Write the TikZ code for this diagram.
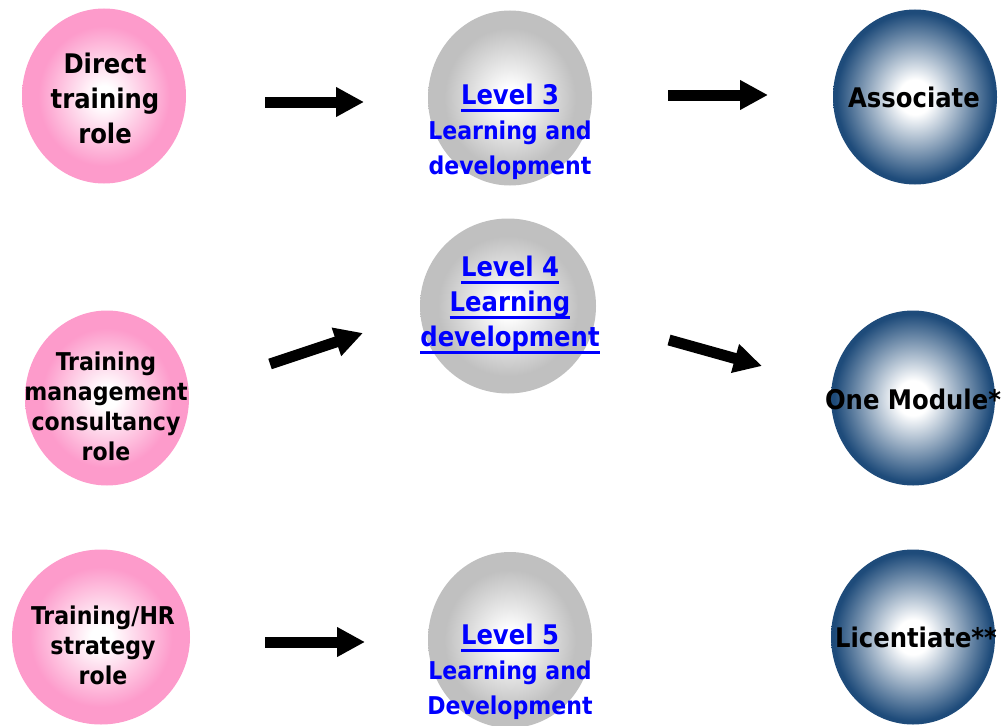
\documentclass[tikz,border=0pt]{standalone}
\usepackage{fontspec}
\setmainfont{DejaVu Sans Condensed}
\usetikzlibrary{shapes.geometric,arrows.meta}
\definecolor{pinkc}{RGB}{253,155,203}
\definecolor{grayc}{RGB}{192,192,192}
\definecolor{bluec}{RGB}{30,75,122}
\definecolor{linkblue}{RGB}{0,0,255}
\pgfdeclareradialshading{pinkball}{\pgfpoint{0bp}{0bp}}{color(0bp)=(white);color(3bp)=(white);color(20bp)=(pinkc);color(25bp)=(pinkc);color(50bp)=(pinkc)}
\pgfdeclareradialshading{grayball}{\pgfpoint{0bp}{0bp}}{color(0bp)=(white);color(3bp)=(white);color(20bp)=(grayc);color(25bp)=(grayc);color(50bp)=(grayc)}
\pgfdeclareradialshading{blueball}{\pgfpoint{0bp}{0bp}}{color(0bp)=(white);color(5bp)=(white);color(24bp)=(bluec);color(25bp)=(bluec);color(50bp)=(bluec)}
\newsavebox\ulbox
\newcommand\myul[1]{\leavevmode\sbox\ulbox{#1}\rlap{\rule[-7pt]{\wd\ulbox}{2.6pt}}\usebox\ulbox}
\newcommand\bigf{\fontsize{27}{35}\selectfont\bfseries}
\newcommand\midf{\fontsize{24.5}{35}\selectfont\bfseries}
\newcommand\pinkf{\fontsize{24.5}{30}\selectfont\bfseries}
\begin{document}
\begin{tikzpicture}[x=1pt,y=-1pt,
  ball/.style={ellipse,minimum width=164pt,minimum height=175pt,inner sep=0pt,outer sep=0pt},
  pinkball/.style={ball,shading=pinkball},
  grayball/.style={ball,shading=grayball},
  blueball/.style={ball,shading=blueball},
  lbl/.style={align=center,inner sep=0pt,text=black},
  link/.style={lbl,text=linkblue},
  fat/.style={line width=11pt,-{Triangle[length=28pt,width=28pt]}}]
\useasboundingbox (0,0) rectangle (1003,725);
% circles
\node[pinkball] (p1) at (104,96) {};
\node[pinkball] (p2) at (107,398) {};
\node[pinkball,minimum width=178pt] (p3) at (101,637) {};
\node[grayball] (g1) at (510,98) {};
\node[grayball,minimum width=176pt] (g2) at (508,306) {};
\node[grayball,minimum height=176pt] (g3) at (510,640) {};
\node[blueball] (b1) at (915,97) {};
\node[blueball] (b2) at (913,398) {};
\node[blueball] (b3) at (913,637) {};
% texts
\node[lbl,font=\bigf] (p1t) at (105,98) {Direct\\training\\role};
\node[lbl,font=\pinkf] (p2t) at (106,406) {Training\\management\\consultancy\\role};
\node[lbl,font=\pinkf] (p3t) at (103,645) {Training/HR\\strategy\\role};
\node[link,font=\midf] (g1t) at (510,132) {\bigf\myul{Level 3}\\Learning and\\development};
\node[link,font=\bigf] (g2t) at (510,305) {\myul{Level 4}\\\myul{Learning}\\\myul{development}};
\node[link,font=\midf] (g3t) at (510,672) {\bigf\myul{Level 5}\\Learning and\\Development};
\node[lbl,font=\bigf] (b1t) at (914,97) {Associate};
\node[lbl,font=\bigf] (b2t) at (913,399) {One Module*};
\node[lbl,font=\bigf] (b3t) at (916,637) {Licentiate**};
% arrows
\coordinate (a1s) at (265,102); \coordinate (a1e) at (364,102);
\coordinate (a2s) at (668,95);  \coordinate (a2e) at (768,95);
\coordinate (a3s) at (270,364); \coordinate (a3e) at (363,333);
\coordinate (a4s) at (669,340); \coordinate (a4e) at (762,366);
\coordinate (a5s) at (265,642); \coordinate (a5e) at (365,642);
\draw[fat] (a1s) -- (a1e);
\draw[fat] (a2s) -- (a2e);
\draw[fat] (a3s) -- (a3e);
\draw[fat] (a4s) -- (a4e);
\draw[fat] (a5s) -- (a5e);
\end{tikzpicture}
\end{document}
